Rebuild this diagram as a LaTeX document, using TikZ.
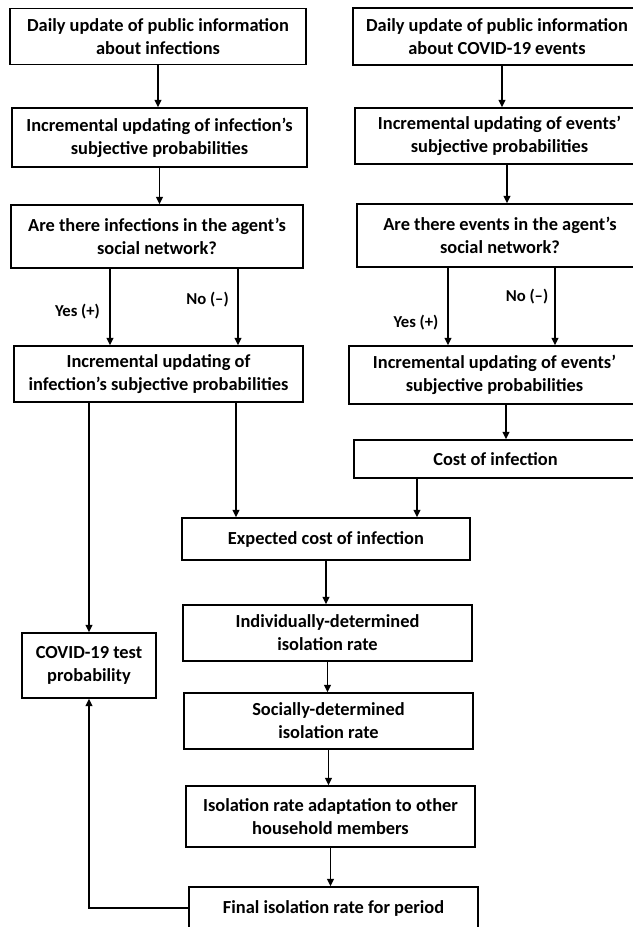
\documentclass[tikz,border=0pt]{standalone}
\usepackage{fontspec}
\setmainfont{Carlito}
\usetikzlibrary{arrows.meta}

\begin{document}
\begin{tikzpicture}[
            x=0.75pt, y=-0.75pt,
            >={Triangle[length=5.5pt,width=5pt]},
            box/.style={draw, line width=1.1pt, align=center, inner sep=0pt,
                minimum width=217pt, minimum height=42pt,
                font=\bfseries\fontsize{13.8}{17.25}\selectfont},
            lbl/.style={font=\bfseries\fontsize{12.5}{15}\selectfont},
            flow/.style={->, line width=1.2pt}
        ]
            \useasboundingbox (0,0) rectangle (632,927);
            % left column: infections
            \node[box, minimum width=222pt] (infpub) at (158,36.5)
                {Daily update of public information\\about infections};
            \node[box, minimum width=221.25pt, minimum height=44.25pt] (infinc) at (159.5,137.5)
                {Incremental updating of infection’s\\subjective probabilities};
            \node[box, minimum width=219pt, minimum height=47.25pt] (infnet) at (157,236.5)
                {Are there infections in the agent’s\\social network?};
            \node[box] (infupd) at (158.5,374)
                {Incremental updating of\\infection’s subjective probabilities};
            % right column: events
            \node[box, minimum width=216pt, minimum height=42.75pt] (evpub) at (497,36.5)
                {Daily update of public information\\about COVID-19 events};
            \node[box] (evinc) at (499.5,136)
                {Incremental updating of events’\\subjective probabilities};
            \node[box, minimum width=214.5pt, minimum height=47.25pt] (evnet) at (500,235.5)
                {Are there events in the agent’s\\social network?};
            \node[box, minimum width=218.25pt, minimum height=43.5pt] (evupd) at (494.5,375)
                {Incremental updating of events’\\subjective probabilities};
            \node[box, minimum width=212.25pt, minimum height=28.5pt] (cost) at (495.5,459)
                {Cost of infection};
            % middle column: isolation
            \node[box, minimum width=216pt, minimum height=31.5pt] (expcost) at (326,539)
                {Expected cost of infection};
            \node[box] (indiv) at (327.5,633)
                {Individually-determined\\isolation rate};
            \node[box] (social) at (328.5,721)
                {Socially-determined\\isolation rate};
            \node[box, minimum height=45.75pt] (house) at (330.5,816.5)
                {Isolation rate adaptation to other\\household members};
            \node[box, minimum height=31.5pt] (final) at (333.5,908)
                {Final isolation rate for period};
            \node[box, minimum width=100.5pt, minimum height=48.75pt] (test) at (89,665.5)
                {COVID-19 test\\probability};
            % branch positions
            \coordinate (yesL) at (110,0);
            \coordinate (noL) at (238,0);
            \coordinate (yesR) at (448,0);
            \coordinate (noR) at (555,0);
            \coordinate (evA) at (502,0);
            \coordinate (evB) at (507,0);
            \coordinate (evC) at (506,0);
            \coordinate (toExp) at (236,0);
            \coordinate (costX) at (417,0);
            % branch labels
            \node[lbl] (yesLt) at (77.5,311.5) {Yes (+)};
            \node[lbl] (noLt) at (207.5,300) {No (–)};
            \node[lbl] (yesRt) at (416,322.5) {Yes (+)};
            \node[lbl] (noRt) at (527,297) {No (–)};
            % connectors
            \draw[flow] (infpub.south) -- (infpub.south |- infinc.north);
            \draw[flow] (infinc.south) -- (infinc.south |- infnet.north);
            \draw[flow] (infnet.south -| yesL) -- (infupd.north -| yesL);
            \draw[flow] (infnet.south -| noL) -- (infupd.north -| noL);
            \draw[flow] (infupd.south -| test.north) -- (test.north);
            \draw[flow] (infupd.south -| toExp) -- (expcost.north -| toExp);
            \draw[flow] (evpub.south -| evA) -- (evinc.north -| evA);
            \draw[flow] (evinc.south -| evB) -- (evnet.north -| evB);
            \draw[flow] (evnet.south -| yesR) -- (evupd.north -| yesR);
            \draw[flow] (evnet.south -| noR) -- (evupd.north -| noR);
            \draw[flow] (evupd.south -| evC) -- (cost.north -| evC);
            \draw[flow] (cost.south -| costX) -- (expcost.north -| costX);
            \draw[flow] (expcost.south) -- (expcost.south |- indiv.north);
            \draw[flow] (indiv.south) -- (indiv.south |- social.north);
            \draw[flow] (social.south) -- (social.south |- house.north);
            \draw[flow] (house.south) -- (house.south |- final.north);
            \draw[flow] (final.west) -| (test.south);
        \end{tikzpicture}
\end{document}
